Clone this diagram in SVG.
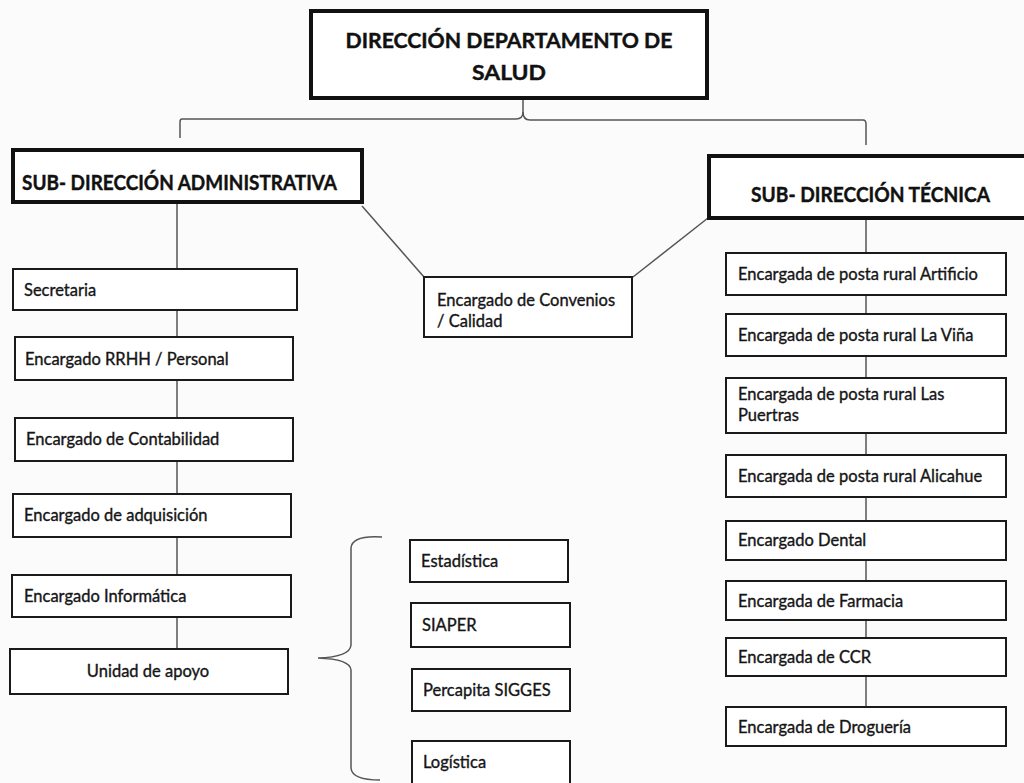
<svg xmlns="http://www.w3.org/2000/svg" width="1024" height="783" viewBox="0 0 1024 783">
<style>
.bg{fill:#fbfbfb}
.box{fill:#fff;stroke:#1a1a1a;stroke-width:2}
.hbox{fill:#fff;stroke:#111;stroke-width:4}
.t{font-family:Lato,"Liberation Sans",sans-serif;font-size:16.5px;fill:#151515;stroke:#151515;stroke-width:0.35}
.h{font-family:Lato,"Liberation Sans",sans-serif;font-size:20px;font-weight:bold;fill:#111;stroke:#111;stroke-width:0.4}
.c{fill:none;stroke:#555;stroke-width:1.5}
</style>
<rect class="bg" x="0" y="0" width="1024" height="783"/>
<g id="connectors">
<path class="c" d="M523 98 V112 Q523 119 516 119 H182 Q180 119 180 122 V138"/>
<path class="c" d="M523 112 Q523 120 530 120 H863 Q866 120 866 124 V145"/>
<path class="c" d="M177 202 V649"/>
<path class="c" d="M866 218 V707"/>
<path class="c" d="M362 206 L424 277"/>
<path class="c" d="M633 277 L708 218"/>
<path class="c" d="M382 537 Q352 535 351 548 V645 Q350 657 318 658 Q350 659 351 670 V768 Q352 780 380 780"/>
</g>
<g id="n-dir"><rect class="hbox" x="311" y="11" width="396" height="87"/>
<text class="h" x="509" y="48" text-anchor="middle" textLength="327" lengthAdjust="spacingAndGlyphs">DIRECCIÓN DEPARTAMENTO DE</text>
<text class="h" x="509" y="80" text-anchor="middle" textLength="74" lengthAdjust="spacingAndGlyphs">SALUD</text></g>
<g id="n-adm"><rect class="hbox" x="13" y="150" width="349" height="52"/>
<text class="h" x="22" y="190" font-size="18" textLength="315" lengthAdjust="spacingAndGlyphs">SUB- DIRECCIÓN ADMINISTRATIVA</text></g>
<g id="n-tec"><rect class="hbox" x="709" y="156" width="330" height="62"/>
<text class="h" x="751" y="202" font-size="18" textLength="239" lengthAdjust="spacingAndGlyphs">SUB- DIRECCIÓN TÉCNICA</text></g>
<g id="n-conv"><rect class="box" x="424" y="277" width="208" height="60"/>
<text class="t" x="437" y="306">Encargado de Convenios</text>
<text class="t" x="437" y="327">/ Calidad</text></g>
<g id="n-sec"><rect class="box" x="13" y="269" width="284" height="41"/><text class="t" x="24" y="296">Secretaria</text></g>
<g id="n-rrhh"><rect class="box" x="15" y="337" width="278" height="43"/><text class="t" x="25" y="365">Encargado RRHH / Personal</text></g>
<g id="n-cont"><rect class="box" x="15" y="418" width="278" height="43"/><text class="t" x="26" y="445">Encargado de Contabilidad</text></g>
<g id="n-adq"><rect class="box" x="13" y="494" width="278" height="43"/><text class="t" x="24" y="521">Encargado de adquisición</text></g>
<g id="n-inf"><rect class="box" x="12" y="575" width="279" height="42"/><text class="t" x="24" y="602">Encargado Informática</text></g>
<g id="n-apoyo"><rect class="box" x="10" y="649" width="278" height="45"/><text class="t" x="148" y="677" text-anchor="middle">Unidad de apoyo</text></g>
<g id="n-est"><rect class="box" x="410" y="540" width="158" height="42"/><text class="t" x="421" y="567">Estadística</text></g>
<g id="n-siaper"><rect class="box" x="411" y="603" width="159" height="44"/><text class="t" x="422" y="631">SIAPER</text></g>
<g id="n-perc"><rect class="box" x="412" y="669" width="158" height="42"/><text class="t" x="423" y="696">Percapita SIGGES</text></g>
<g id="n-log"><rect class="box" x="412" y="741" width="158" height="44"/><text class="t" x="423" y="768">Logística</text></g>
<g id="n-art"><rect class="box" x="726" y="253" width="280" height="42"/><text class="t" x="738" y="280">Encargada de posta rural Artificio</text></g>
<g id="n-vina"><rect class="box" x="726" y="314" width="280" height="42"/><text class="t" x="738" y="341">Encargada de posta rural La Viña</text></g>
<g id="n-puer"><rect class="box" x="726" y="378" width="280" height="55"/><text class="t" x="738" y="400">Encargada de posta rural Las</text><text class="t" x="738" y="421">Puertras</text></g>
<g id="n-ali"><rect class="box" x="726" y="455" width="280" height="42"/><text class="t" x="738" y="482">Encargada de posta rural Alicahue</text></g>
<g id="n-dent"><rect class="box" x="726" y="521" width="280" height="39"/><text class="t" x="738" y="546">Encargado Dental</text></g>
<g id="n-farm"><rect class="box" x="726" y="581" width="280" height="39"/><text class="t" x="738" y="607">Encargada de Farmacia</text></g>
<g id="n-ccr"><rect class="box" x="726" y="638" width="280" height="38"/><text class="t" x="738" y="663">Encargada de CCR</text></g>
<g id="n-drog"><rect class="box" x="726" y="707" width="280" height="39"/><text class="t" x="738" y="733">Encargada de Droguería</text></g>
</svg>
